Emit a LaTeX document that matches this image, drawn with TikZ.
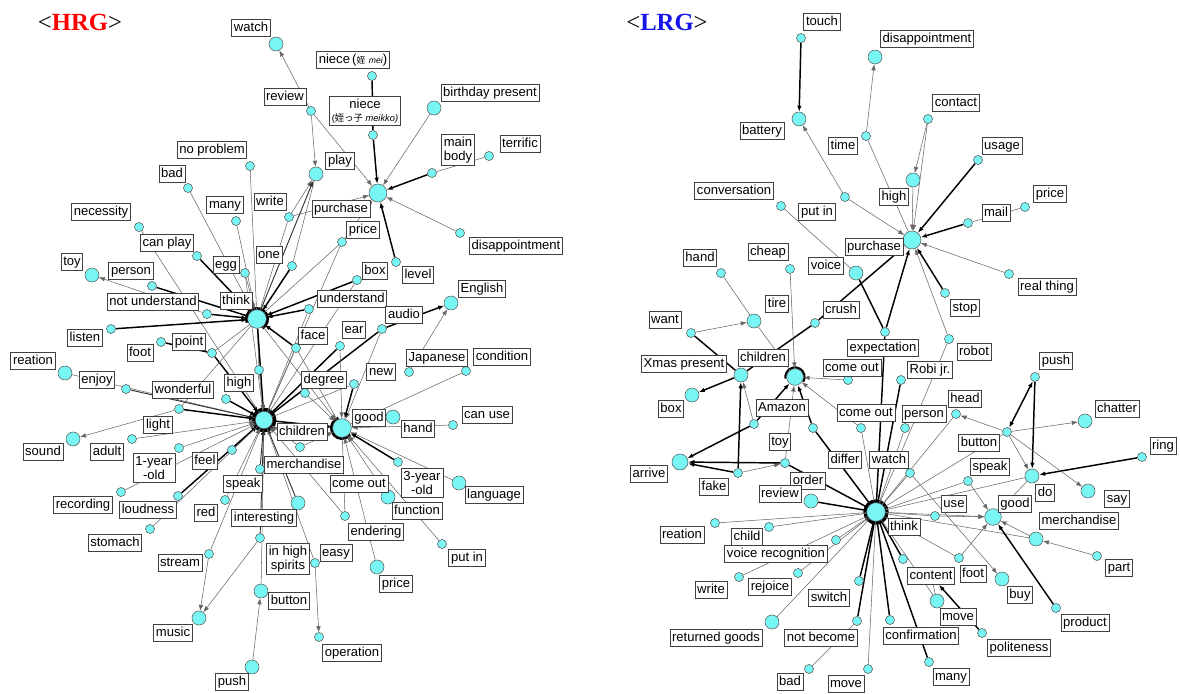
\documentclass[tikz,border=0pt]{standalone}
\usepackage{fontspec}
\usetikzlibrary{arrows.meta}
\setmainfont{Liberation Serif}
\newfontfamily\lblfont{Liberation Sans}
\newfontfamily\cjk{Noto Sans CJK JP}
\newcommand\lbl{\lblfont\fontsize{9.8}{10.8}\selectfont}
\definecolor{cy}{RGB}{120,245,245}
\definecolor{tblue}{RGB}{20,20,235}
\pgfdeclarelayer{bg}
\pgfsetlayers{bg,main}
\newcommand\pd[4][dotS]{\node[#1] (#2) at (#3,#4) {};}
\newcommand\pl[5][lab]{\node[#1] (#2) at (#3,#4) {#5};}
\newcommand\cn[3][ln]{\draw[#1] (#2) -- (#3);}
\tikzset{
  dotS/.style={circle,draw=black!65,line width=0.4pt,fill=cy,inner sep=0pt,minimum size=6.8pt},
  dotM/.style={dotS,minimum size=10.5pt},
  dotH/.style={dotS,minimum size=#1},
  lab/.style={draw=black!75,line width=0.6pt,fill=white,font=\lbl,inner sep=1.6pt,text height=7.3pt,text depth=2.2pt},
  labII/.style={draw=black!75,line width=0.6pt,fill=white,font=\lbl,inner sep=1.8pt,align=center},
  ln/.style={draw=black!60,line width=0.4pt},
  lm/.style={draw=black!80,line width=0.7pt},
  lk/.style={draw=black,line width=1.1pt},
  ar/.style={-{Latex[length=4.5pt,width=3.4pt]}},
  ttl/.style={font=\fontsize{18.5}{20}\selectfont,inner sep=0pt},
  ring/.style={draw=black,line width=#1},
}
\begin{document}
\begin{tikzpicture}[x=0.75pt,y=-0.75pt]
\useasboundingbox (0,0) rectangle (1180,693);
\begin{pgfonlayer}{bg}
\fill[white] (0,0) rectangle (1180,693);
\end{pgfonlayer}
% ===== titles
\node[ttl] (Ltitle) at (80,22) {<\textcolor{red}{\textbf{HRG}}>};
\node[ttl] (Rtitle) at (667,22) {<\textcolor{tblue}{\textbf{LRG}}>};
% ===== LEFT dots
\pd[dotM]{Lwatch}{276}{44}
\pd{Lreview}{311}{111}
\pd{Lmei}{372}{76}
\pd{Lmeikko}{373}{135}
\pd[dotH=13.5pt]{Lpur}{378}{193}
\pd[dotM]{Lbirth}{434}{108}
\pd{Lmain}{432}{173}
\pd{Lterr}{489}{156}
\pd[dotM]{Lplay}{316}{174}
\pd{Lnoprob}{250}{166}
\pd{Lbad}{188}{188}
\pd{Lmany}{236}{221}
\pd{Lwrite}{289}{217}
\pd{Lnec}{139}{227}
\pd{Lprice}{342}{242}
\pd{Ldisap}{460}{233}
\pd{Llevel}{396}{262}
\pd{Lbox}{357}{280}
\pd{Lund}{309}{309}
\pd[dotM]{Leng}{451}{303}
\pd{Laudio}{382}{329}
\pd{Lear}{340}{346}
\pd{Lface}{296}{348}
\pd{Ljap}{409}{372}
\pd{Lcond}{466}{371}
\pd{Lnew}{354}{384}
\pd{Ldeg}{305}{393}
\pd[dotH=14pt]{Lgood}{342}{428}
\pd[dotM]{Lhand}{393}{417}
\pd{Lcanuse}{453}{425}
\pd[dotH=13pt]{Lchild}{264}{420}
\pd{Lcanplay}{197}{256}
\pd{Legg}{245}{273}
\pd{Lone}{292}{266}
\pd[dotM]{Ltoy}{92}{275}
\pd{Lperson}{152}{286}
\pd{Lnotund}{207}{314}
\pd[dotH=14pt]{Lthink}{257}{319}
\pd{Llisten}{111}{329}
\pd{Lfoot}{161}{342}
\pd{Lpoint}{212}{353}
\pd[dotM]{Lreation}{65}{373}
\pd{Lenjoy}{126}{389}
\pd{Lwonder}{179}{409}
\pd{Lhigh}{259}{370}
\pd{Lhighb}{226}{399}
\pd[dotM]{Lsound}{73}{439}
\pd{Ladult}{132}{439}
\pd{Lyear}{179}{448}
\pd{Lfeel}{232}{450}
\pd{Lspeak}{260}{469}
\pd{Lmerch}{300}{447}
\pd{Lrec}{121}{492}
\pd{Lloud}{178}{496}
\pd{Lstom}{150}{529}
\pd{Lred}{225}{500}
\pd{Linter}{260}{538}
\pd{Lstream}{209}{554}
\pd[dotM]{Lmusic}{199}{618}
\pd[dotM]{Lbutton}{261}{591}
\pd[dotM]{Lpush}{252}{667}
\pd{Lender}{345}{516}
\pd[dotM]{Llang}{459}{483}
\pd[dotM]{Lfunc}{388}{497}
\pd[dotM]{Lspirit}{298}{503}
\pd{Leasy}{315}{563}
\pd[dotM]{Lpriceb}{377}{567}
\pd{Lputin}{442}{544}
\pd{Loper}{319}{637}
\pd{Lyearb}{398}{462}
% ===== LEFT labels
\pl{Lwatch-l}{251}{28}{watch}
\pl{Lreview-l}{285}{97}{review}
\pl{Lmei-l}{353}{60}{niece\,({\cjk\fontsize{6.5}{7}\selectfont 姪} {\fontsize{6.5}{7}\selectfont\itshape mei})}
\pl[labII]{Lmeikko-l}{365}{111}{niece\\[-1pt]{\fontsize{7}{8}\selectfont({\cjk 姪っ子} \itshape meikko)}}
\pl{Lbirth-l}{490}{93}{birthday present}
\pl[labII]{Lmain-l}{458}{150}{main\\body}
\pl{Lterr-l}{520}{144}{terrific}
\pl{Lplay-l}{340}{161}{play}
\pl{Lnoprob-l}{212}{150}{no problem}
\pl{Lbad-l}{172}{174}{bad}
\pl{Lmany-l}{225}{205}{many}
\pl{Lwrite-l}{270}{202}{write}
\pl{Lnec-l}{101}{212}{necessity}
\pl{Lpur-l}{341}{209}{purchase}
\pl{Lprice-l}{363}{230}{price}
\pl{Ldisap-l}{516}{246}{disappointment}
\pl{Llevel-l}{418}{275}{level}
\pl{Lbox-l}{375}{271}{box}
\pl{Lund-l}{352}{299}{understand}
\pl{Leng-l}{482}{289}{English}
\pl{Laudio-l}{404}{315}{audio}
\pl{Lear-l}{354}{330}{ear}
\pl{Lface-l}{313}{336}{face}
\pl{Ljap-l}{437}{358}{Japanese}
\pl{Lcond-l}{502}{357}{condition}
\pl{Lnew-l}{381}{372}{new}
\pl{Ldeg-l}{324}{380}{degree}
\pl{Lgood-l}{369}{418}{good}
\pl{Lhand-l}{418}{429}{hand}
\pl{Lcanuse-l}{487}{415}{can use}
\pl{Lchild-l}{302}{432}{children}
\pl{Lcanplay-l}{167}{243}{can play}
\pl{Legg-l}{226}{265}{egg}
\pl{Lone-l}{269}{255}{one}
\pl{Ltoy-l}{72}{262}{toy}
\pl{Lperson-l}{131}{271}{person}
\pl{Lnotund-l}{153}{302}{not understand}
\pl{Lthink-l}{236}{301}{think}
\pl{Llisten-l}{85}{338}{listen}
\pl{Lfoot-l}{140}{353}{foot}
\pl{Lpoint-l}{189}{342}{point}
\pl{Lreation-l}{33}{361}{reation}
\pl{Lenjoy-l}{97}{380}{enjoy}
\pl{Lwonder-l}{183}{390}{wonderful}
\pl{Lhigh-l}{239}{383}{high}
\pl{Llight-l}{158}{425}{light}
\pl{Lsound-l}{43}{452}{sound}
\pl{Ladult-l}{107}{452}{adult}
\pl[labII]{Lyear-l}{154}{468}{1-year\\-old}
\pl{Lfeel-l}{205}{461}{feel}
\pl{Lmerch-l}{304}{465}{merchandise}
\pl{Lrec-l}{83}{505}{recording}
\pl{Lloud-l}{148}{510}{loudness}
\pl{Lstom-l}{115}{543}{stomach}
\pl{Lred-l}{206}{513}{red}
\pl{Lspeak-l}{243}{484}{speak}
\pl{Linter-l}{264}{518}{interesting}
\pl{Lstream-l}{180}{563}{stream}
\pl{Lmusic-l}{173}{633}{music}
\pl[labII]{Lspirit-l}{288}{559}{in high\\spirits}
\pl{Lbutton-l}{289}{601}{button}
\pl{Lpush-l}{232}{682}{push}
\pl{Lcome-l}{359}{484}{come out}
\pl[labII]{Lyearb-l}{422}{483}{3-year\\-old}
\pl{Llang-l}{494}{495}{language}
\pl{Lfunc-l}{417}{511}{function}
\pl{Lender-l}{376}{532}{endering}
\pl{Leasy-l}{336}{553}{easy}
\pl{Lpriceb-l}{396}{584}{price}
\pl{Lputin-l}{467}{558}{put in}
\pl{Loper-l}{352}{653}{operation}
% ===== RIGHT dots
\pd{Rtouch}{801}{38}
\pd[dotM]{Rbatt}{799}{119}
\pd[dotM]{Rdisap}{875}{57}
\pd{Rtime}{866}{136}
\pd{Rconv}{781}{206}
\pd{Rputin}{845}{197}
\pd[dotM]{Rhigh}{913}{180}
\pd{Rcontact}{928}{119}
\pd{Rusage}{978}{160}
\pd{Rprice}{1025}{207}
\pd{Rmail}{968}{223}
\pd[dotH=13.5pt]{Rpur}{912}{240}
\pd[dotM]{Rvoice}{856}{273}
\pd{Rhand}{721}{273}
\pd{Rcheap}{790}{269}
\pd[dotM]{Rtire}{754}{321}
\pd{Rwant}{691}{333}
\pd{Rcrush}{815}{323}
\pd{Rexp}{885}{332}
\pd[dotM]{Rchild}{741}{375}
\pd[dotM]{Rbox}{692}{395}
\pd[dotH=12.5pt]{Rhub}{795}{377}
\pd{Rcomea}{848}{380}
\pd{Rcomeb}{861}{428}
\pd{Ramazon}{754}{424}
\pd{Rtoy}{785}{463}
\pd{Rdiffer}{813}{428}
\pd[dotH=12pt]{Rarrive}{680}{462}
\pd{Rfake}{738}{473}
\pd[dotM]{Rreview}{811}{501}
\pd[dotH=14pt]{Rthink}{876}{512}
\pd{Rreal}{1009}{274}
\pd{Rstop}{945}{293}
\pd{Rrobot}{949}{339}
\pd{Rrobi}{901}{380}
\pd{Rperson}{905}{428}
\pd{Rhead}{956}{414}
\pd{Rpush}{1035}{377}
\pd[dotM]{Rchat}{1085}{421}
\pd{Rbutton}{1007}{432}
\pd{Rring}{1142}{457}
\pd{Rreation}{715}{523}
\pd{Rchildb}{769}{527}
\pd{Rvoicerec}{836}{540}
\pd{Rwrite}{739}{577}
\pd{Rrejoice}{798}{573}
\pd{Rswitch}{859}{581}
\pd[dotM]{Rreturned}{772}{622}
\pd{Rnotbec}{857}{621}
\pd{Rbad}{809}{669}
\pd{Rmove}{868}{669}
\pd{Rconf}{890}{620}
\pd{Rspeak}{968}{481}
\pd[dotM]{Rdo}{1032}{476}
\pd[dotM]{Rsay}{1088}{491}
\pd{Ruse}{935}{516}
\pd[dotH=12.5pt]{Rgood}{993}{517}
\pd[dotM]{Rmerch}{1036}{539}
\pd{Rpart}{1097}{556}
\pd{Rfoot}{959}{558}
\pd[dotM]{Rbuy}{1002}{579}
\pd[dotM]{Rmoveb}{937}{601}
\pd{Rpolite}{982}{633}
\pd{Rproduct}{1056}{608}
\pd{Rmany}{929}{662}
\pd{Rwatch}{910}{473}
\pd{Rcontent}{903}{559}
% ===== RIGHT labels
\pl{Rtouch-l}{822}{22}{touch}
\pl{Rbatt-l}{762}{131}{battery}
\pl{Rdisap-l}{927}{39}{disappointment}
\pl{Rtime-l}{843}{146}{time}
\pl{Rconv-l}{734}{191}{conversation}
\pl{Rputin-l}{817}{212}{put in}
\pl{Rhigh-l}{894}{197}{high}
\pl{Rcontact-l}{956}{103}{contact}
\pl{Rusage-l}{1002}{146}{usage}
\pl{Rprice-l}{1050}{194}{price}
\pl{Rmail-l}{996}{213}{mail}
\pl{Rpur-l}{874}{247}{purchase}
\pl{Rvoice-l}{826}{266}{voice}
\pl{Rhand-l}{700}{258}{hand}
\pl{Rcheap-l}{768}{252}{cheap}
\pl{Rtire-l}{777}{304}{tire}
\pl{Rwant-l}{665}{320}{want}
\pl{Rcrush-l}{841}{310}{crush}
\pl{Rexp-l}{883}{348}{expectation}
\pl{Rchild-l}{763}{358}{children}
\pl{Rxmas-l}{684}{364}{Xmas present}
\pl{Rbox-l}{671}{409}{box}
\pl{Rcomea-l}{852}{368}{come out}
\pl{Rcomeb-l}{866}{413}{come out}
\pl{Ramazon-l}{782}{408}{Amazon}
\pl{Rtoy-l}{780}{442}{toy}
\pl{Rdiffer-l}{845}{460}{differ}
\pl{Rwatch-l}{889}{460}{watch}
\pl{Rarrive-l}{649}{474}{arrive}
\pl{Rfake-l}{714}{487}{fake}
\pl{Rorder-l}{808}{481}{order}
\pl{Rreview-l}{780}{494}{review}
\pl{Rthink-l}{904}{527}{think}
\pl{Rreal-l}{1047}{287}{real thing}
\pl{Rstop-l}{965}{308}{stop}
\pl{Rrobot-l}{974}{352}{robot}
\pl{Rrobi-l}{930}{370}{Robi jr.}
\pl{Rperson-l}{924}{414}{person}
\pl{Rhead-l}{965}{399}{head}
\pl{Rpush-l}{1056}{361}{push}
\pl{Rchat-l}{1117}{409}{chatter}
\pl{Rbutton-l}{979}{443}{button}
\pl{Rring-l}{1163}{446}{ring}
\pl{Rreation-l}{682}{535}{reation}
\pl{Rchildb-l}{747}{537}{child}
\pl{Rvoicerec-l}{776}{554}{voice recognition}
\pl{Rwrite-l}{711}{590}{write}
\pl{Rrejoice-l}{770}{587}{rejoice}
\pl{Rswitch-l}{829}{598}{switch}
\pl{Rreturned-l}{716}{638}{returned goods}
\pl{Rnotbec-l}{821}{638}{not become}
\pl{Rbad-l}{790}{682}{bad}
\pl{Rmove-l}{846}{684}{move}
\pl{Rconf-l}{921}{636}{confirmation}
\pl{Rspeak-l}{990}{467}{speak}
\pl{Rdo-l}{1045}{493}{do}
\pl{Rsay-l}{1117}{499}{say}
\pl{Ruse-l}{954}{504}{use}
\pl{Rgood-l}{1015}{504}{good}
\pl{Rmerch-l}{1079}{521}{merchandise}
\pl{Rpart-l}{1119}{568}{part}
\pl{Rcontent-l}{931}{576}{content}
\pl{Rfoot-l}{973}{574}{foot}
\pl{Rbuy-l}{1020}{595}{buy}
\pl{Rmoveb-l}{958}{617}{move}
\pl{Rpolite-l}{1019}{648}{politeness}
\pl{Rproduct-l}{1085}{623}{product}
\pl{Rmany-l}{951}{677}{many}
% ===== EDGES
\begin{pgfonlayer}{bg}
\draw[ring=3pt] (Lchild.center) circle (7.8pt);
\draw[ring=2pt] ([shift={(-60:8pt)}]Lthink.center) arc (-60:200:8pt);
\draw[ring=2pt] ([shift={(110:8pt)}]Lgood.center) arc (110:320:8pt);
\draw[ring=2.6pt] (Rthink.center) circle (8.2pt);
\draw[ring=1.6pt] ([shift={(-30:7.2pt)}]Rhub.center) arc (-30:190:7.2pt);
% left, purchase cluster
\cn[ln,ar]{Lreview}{Lwatch}
\cn[ln,ar]{Lreview}{Lplay}
\cn[ln,ar]{Lreview}{Lpur}
\cn[lk]{Lmei}{Lmeikko}
\cn[lk,ar]{Lmeikko}{Lpur}
\cn[ln,ar]{Lbirth}{Lpur}
\cn[lk,ar]{Lmain}{Lpur}
\cn[ln]{Lterr}{Lmain}
\cn[ln,ar]{Ldisap}{Lpur}
\cn[lk,ar]{Llevel}{Lpur}
\cn[ln,ar]{Lwrite}{Lpur}
\cn[ln,ar]{Lwrite}{Lplay}
\cn[ln,ar]{Lprice}{Lpur}
\cn[lm,ar]{Lthink}{Lplay}
\cn[ln]{Lone}{Lplay}
% left, think cluster
\cn[ln]{Lnoprob}{Lthink}
\cn[ln]{Lbad}{Lthink}
\cn[ln]{Lmany}{Lthink}
\cn[ln]{Lwrite}{Lthink}
\cn[ln]{Lnec}{Lchild}
\cn[lk,ar]{Lcanplay}{Lthink}
\cn[ln,ar]{Legg}{Lthink}
\cn[lk,ar]{Lone}{Lthink}
\cn[lk]{Lperson}{Lthink}
\cn[ln,ar]{Lnotund}{Ltoy}
\cn[lk,ar]{Lnotund}{Lthink}
\cn[lk,ar]{Llisten}{Lthink}
\cn[lk]{Lfoot}{Lpoint}
\cn[ln]{Lpoint}{Lthink}
\cn[lk,ar]{Lpoint}{Lchild}
\cn[lk,ar]{Lund}{Lthink}
\cn[lk,ar]{Lbox}{Lthink}
\cn[lk,ar]{Lface}{Lthink}
\cn[ln]{Lprice}{Lthink}
\cn[ln]{Lhigh}{Lthink}
\cn[ln]{Lwonder}{Lthink}
\cn[lk,ar]{Lthink}{Lchild}
\cn[ln,ar]{Lthink}{Lgood}
% left, children cluster
\cn[ln,ar]{Lreation}{Lchild}
\cn[lm,ar]{Lenjoy}{Lchild}
\cn[lk,ar]{Lwonder}{Lchild}
\cn[ln,ar]{Lwonder}{Lsound}
\cn[ln,ar]{Ladult}{Lchild}
\cn[ln,ar]{Lyear}{Lchild}
\cn[ln,ar]{Lfeel}{Lchild}
\cn[ln,ar]{Lrec}{Lchild}
\cn[lk,ar]{Lloud}{Lchild}
\cn[ln]{Lstom}{Lchild}
\cn[ln,ar]{Lred}{Lchild}
\cn[ln]{Lchild}{Lstream}
\cn[ln,ar]{Lstream}{Lmusic}
\cn[ln,ar]{Linter}{Lmusic}
\cn[lm,ar]{Linter}{Lchild}
\cn[ln]{Lbutton}{Lchild}
\cn[ln,ar]{Lpush}{Lbutton}
\cn[lm,ar]{Lspeak}{Lchild}
\cn[ln,ar]{Lmerch}{Lchild}
\cn[lm,ar]{Lspirit}{Lchild}
\cn[ln,ar]{Leasy}{Loper}
\cn[ln]{Leasy}{Lchild}
\cn[ln,ar]{Lender}{Lchild}
\cn[ln]{Lender}{Lgood}
\cn[ln,ar]{Lhigh}{Lchild}
\cn[lk,ar]{Lhighb}{Lchild}
\cn[ln]{Lund}{Lchild}
\cn[ln]{Lbox}{Lchild}
\cn[ln]{Legg}{Lchild}
\cn[ln]{Lface}{Lchild}
\cn[lk]{Lear}{Lchild}
\cn[lk]{Laudio}{Lchild}
\cn[ln]{Lprice}{Lchild}
\cn[ln]{Lnew}{Lchild}
% left, good cluster
\cn[lk,ar]{Lchild}{Lgood}
\cn[ln,ar]{Lpriceb}{Lgood}
\cn[ln,ar]{Lfunc}{Lgood}
\cn[ln,ar]{Llang}{Lgood}
\cn[lk,ar]{Lyearb}{Lgood}
\cn[ln,ar]{Lputin}{Lgood}
\cn[ln,ar]{Lcanuse}{Lgood}
\cn[ln,ar]{Lhand}{Lgood}
\cn[ln,ar]{Lcond}{Lgood}
\cn[ln,ar]{Ljap}{Leng}
\cn[lk,ar]{Laudio}{Leng}
\cn[ln,ar]{Laudio}{Lgood}
\cn[lk,ar]{Lnew}{Lgood}
\cn[ln,ar]{Ldeg}{Lgood}
\cn[ln,ar]{Lear}{Lgood}
\cn[ln,ar]{Lmerch}{Lgood}
\cn[ln]{Lface}{Lgood}
% right, purchase cluster
\cn[lk,ar]{Rtouch}{Rbatt}
\cn[ln,ar]{Rputin}{Rbatt}
\cn[ln,ar]{Rputin}{Rpur}
\cn[ln,ar]{Rtime}{Rdisap}
\cn[ln]{Rtime}{Rpur}
\cn[ln,ar]{Rcontact}{Rhigh}
\cn[ln,ar]{Rcontact}{Rpur}
\cn[ln,ar]{Rhigh}{Rpur}
\cn[lk,ar]{Rusage}{Rpur}
\cn[lk,ar]{Rmail}{Rpur}
\cn[ln]{Rprice}{Rmail}
\cn[ln,ar]{Rreal}{Rpur}
\cn[lk,ar]{Rstop}{Rpur}
\cn[ln,ar]{Rrobot}{Rpur}
\cn[ln]{Rrobot}{Rthink}
\cn[ln]{Rconv}{Rvoice}
\cn[lk]{Rvoice}{Rexp}
\cn[lk,ar]{Rexp}{Rpur}
\cn[lk]{Rcrush}{Rchild}
\cn[lk,ar]{Rcrush}{Rpur}
% right, toy cluster
\cn[ln]{Rhand}{Rtire}
\cn[ln,ar]{Rwant}{Rtire}
\cn[lk]{Rwant}{Rchild}
\cn[ln]{Rtire}{Rhub}
\cn[ln,ar]{Rcheap}{Rhub}
\cn[lk,ar]{Rchild}{Rbox}
\cn[lk,ar]{Ramazon}{Rarrive}
\cn[lk,ar]{Ramazon}{Rhub}
\cn[ln,ar]{Ramazon}{Rchild}
\cn[lk,ar]{Rfake}{Rarrive}
\cn[lk,ar]{Rfake}{Rchild}
\cn[ln,ar]{Rfake}{Rtoy}
\cn[lk,ar]{Rtoy}{Rarrive}
\cn[ln,ar]{Rtoy}{Rhub}
\cn[lk,ar]{Rdiffer}{Rhub}
\cn[ln,ar]{Rcomea}{Rhub}
\cn[ln,ar]{Rcomeb}{Rhub}
% right, think cluster
\cn[ln]{Rcomeb}{Rthink}
\cn[lk]{Rdiffer}{Rthink}
\cn[lk]{Rtoy}{Rthink}
\cn[lk]{Rexp}{Rthink}
\cn[lk]{Rrobi}{Rthink}
\cn[ln]{Rperson}{Rthink}
\cn[ln]{Rwatch}{Rthink}
\cn[lk]{Rreview}{Rthink}
\cn[ln]{Rreation}{Rthink}
\cn[ln]{Rchildb}{Rthink}
\cn[ln]{Rvoicerec}{Rthink}
\cn[ln]{Rwrite}{Rthink}
\cn[ln]{Rrejoice}{Rthink}
\cn[ln]{Rreturned}{Rthink}
\cn[lk]{Rswitch}{Rthink}
\cn[lk]{Rnotbec}{Rthink}
\cn[ln]{Rbad}{Rnotbec}
\cn[ln]{Rmove}{Rthink}
\cn[lk]{Rconf}{Rthink}
\cn[lk]{Rmany}{Rthink}
\cn[lk]{Rcontent}{Rthink}
\cn[ln]{Rfoot}{Rthink}
\cn[ln]{Ruse}{Rthink}
\cn[ln]{Rspeak}{Rthink}
\cn[ln]{Rmerch}{Rthink}
\cn[ln]{Rhead}{Rthink}
\cn[ln]{Rbutton}{Rthink}
\cn[ln]{Rdo}{Rthink}
\cn[ln]{Rmoveb}{Rthink}
% right, good cluster
\cn[ln,ar]{Rthink}{Rgood}
\cn[ln,ar]{Rwatch}{Rbuy}
\cn[ln,ar]{Rspeak}{Rgood}
\cn[ln,ar]{Ruse}{Rgood}
\cn[ln,ar]{Rfoot}{Rgood}
\cn[ln,ar]{Rmerch}{Rgood}
\cn[ln,ar]{Rpart}{Rmerch}
\cn[lk,ar]{Rproduct}{Rgood}
\cn[ln,ar]{Rdo}{Rgood}
\cn[lk,ar]{Rpolite}{Rcontent-l}
\cn[ln]{Rmoveb}{Rcontent-l}
\cn[ln,ar]{Rbutton}{Rhead}
\cn[ln,ar]{Rbutton}{Rchat}
\cn[lk,{Latex[length=4.5pt,width=3.4pt]}-{Latex[length=4.5pt,width=3.4pt]}]{Rbutton}{Rpush}
\cn[lk,ar]{Rpush}{Rdo}
\cn[lk,ar]{Rring}{Rdo}
\cn[ln,ar]{Rbutton}{Rdo}
\cn[ln,ar]{Rbutton}{Rsay}
\end{pgfonlayer}
\end{tikzpicture}
\end{document}
